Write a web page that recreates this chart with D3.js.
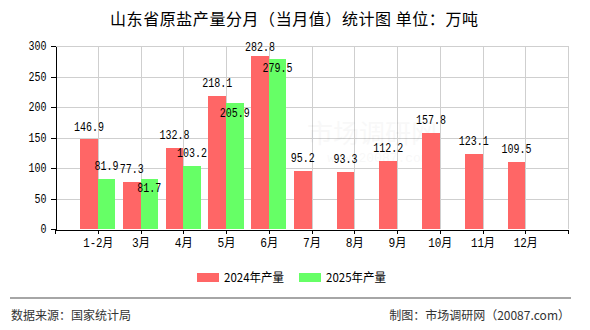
<!DOCTYPE html>
<html>
<head>
<meta charset="utf-8">
<script src="https://cdn.jsdelivr.net/npm/d3@7/dist/d3.min.js"></script>
<style>
  html, body { margin: 0; padding: 0; background: #fff; }
  svg { display: block; }
</style>
</head>
<body>
<svg id="chart" width="590" height="330"></svg>
<script>
// Monthly raw salt output, Shandong province (10k tonnes)
const categories = ["1-2月", "3月", "4月", "5月", "6月", "7月", "8月", "9月", "10月", "11月", "12月"];
const output2024 = [146.9, 77.3, 132.8, 218.1, 282.8, 95.2, 93.3, 112.2, 157.8, 123.1, 109.5];
const output2025 = [81.9, 81.7, 103.2, 205.9, 279.5, null, null, null, null, null, null];
const yTicks = [0, 50, 100, 150, 200, 250, 300];
const seriesNames = ["2024年产量", "2025年产量"];
const seriesColors = ["#ff6666", "#66ff66"];

const svg = d3.select("#chart");
const plot = { left: 55, right: 568, top: 46, bottom: 229 };

const monoFont = "'Liberation Mono', 'DejaVu Sans Mono', 'Noto Sans CJK SC', monospace";
const cjkFont = "'Noto Sans CJK SC', 'Liberation Sans', sans-serif";

// half-width / full-width metrics, like a classic bitmap CJK font
function textWidth(str, size) {
  let w = 0;
  for (const ch of str) w += ch.charCodeAt(0) < 128 ? size / 2 : size;
  return w;
}
function fitText(sel, size) {
  sel.each(function () {
    const t = d3.select(this);
    t.attr("textLength", textWidth(t.text(), size)).attr("lengthAdjust", "spacingAndGlyphs");
  });
}

const x = d3.scalePoint().domain(categories).range([plot.left, plot.right]).padding(1);
const y = d3.scaleLinear().domain([0, 300]).range([plot.bottom, plot.top]);
const barW = x.step() * 0.41;

// grid
const grid = svg.append("g").attr("stroke", "#cfcfcf").attr("stroke-width", 1).attr("shape-rendering", "crispEdges");
grid.selectAll("line.h").data(yTicks.filter(d => d > 0)).join("line")
  .attr("x1", plot.left).attr("x2", plot.right)
  .attr("y1", d => Math.round(y(d)) + 0.5).attr("y2", d => Math.round(y(d)) + 0.5);
grid.selectAll("line.v").data(categories).join("line")
  .attr("x1", d => Math.round(x(d)) + 0.5).attr("x2", d => Math.round(x(d)) + 0.5)
  .attr("y1", plot.top).attr("y2", plot.bottom);
grid.append("line")
  .attr("x1", plot.right + 0.5).attr("x2", plot.right + 0.5)
  .attr("y1", plot.top).attr("y2", plot.bottom);

// faint watermark
const wm = svg.append("g").attr("fill", "#000").attr("opacity", 0.025).attr("text-anchor", "middle");
wm.append("text").attr("x", 372).attr("y", 143).attr("font-family", cjkFont).attr("font-size", 26).text("市场调研网");
wm.append("text").attr("x", 378).attr("y", 162).attr("font-family", monoFont).attr("font-size", 13).text("www.20087.com");

// bars
const rows = categories.map((c, i) => ({ c, v: [output2024[i], output2025[i]] }));
const bars = svg.append("g").attr("shape-rendering", "crispEdges");
[0, 1].forEach(s => {
  bars.selectAll(`rect.s${s}`).data(rows.filter(r => r.v[s] != null)).join("rect")
    .attr("class", `s${s}`)
    .attr("x", r => x(r.c) - barW + s * barW)
    .attr("width", barW)
    .attr("y", r => y(r.v[s]))
    .attr("height", r => y(0) - y(r.v[s]))
    .attr("fill", seriesColors[s]);
});

// axes
const yAxis = svg.append("g").attr("transform", `translate(${plot.left + 0.5},0)`)
  .call(d3.axisLeft(y).tickValues(yTicks).tickSize(5).tickPadding(4).tickSizeOuter(0));
const xAxis = svg.append("g").attr("transform", `translate(0,${plot.bottom + 0.5})`)
  .call(d3.axisBottom(x).tickSize(4).tickSizeOuter(4).tickPadding(5));
[yAxis, xAxis].forEach(a => {
  a.selectAll("path, line").attr("stroke", "#000").attr("shape-rendering", "crispEdges");
  a.selectAll("text").attr("fill", "#000").attr("font-size", 12).attr("font-family", monoFont);
});
yAxis.selectAll("text").call(fitText, 12);
xAxis.selectAll("text").call(fitText, 12);

// value labels: above the bar; second series drops inside when it would collide
const labels = svg.append("g").attr("font-family", monoFont).attr("font-size", 12)
  .attr("fill", "#000").attr("text-anchor", "middle");
rows.forEach(r => {
  const cx = x(r.c);
  const cy0 = Math.max(y(r.v[0]) - 13, plot.top + 1);
  labels.append("text").attr("x", cx - barW / 2).attr("y", cy0).attr("dy", "0.35em").text(r.v[0].toFixed(1));
  if (r.v[1] != null) {
    let cy1 = Math.max(y(r.v[1]) - 13, plot.top + 1);
    if (Math.abs(cy1 - cy0) < 12) cy1 = y(r.v[1]) + 9;
    labels.append("text").attr("x", cx + barW / 2).attr("y", cy1).attr("dy", "0.35em").text(r.v[1].toFixed(1));
  }
});
labels.selectAll("text").call(fitText, 12);

// title
svg.append("text").attr("x", 110).attr("y", 19).attr("dy", "0.35em")
  .attr("font-family", cjkFont).attr("font-size", 16).attr("fill", "#000")
  .attr("textLength", 368).attr("lengthAdjust", "spacing")
  .text("山东省原盐产量分月（当月值）统计图 单位：万吨");

// legend
const legend = svg.append("g");
const legendX = [197, 299];
seriesNames.forEach((n, i) => {
  legend.append("rect").attr("x", legendX[i]).attr("y", 273).attr("width", 22).attr("height", 9)
    .attr("fill", seriesColors[i]).attr("shape-rendering", "crispEdges");
  legend.append("text").attr("x", legendX[i] + 27).attr("y", 277.5).attr("dy", "0.35em")
    .attr("font-family", cjkFont).attr("font-size", 12).attr("fill", "#000").text(n)
    .call(fitText, 12);
});

// footer
svg.append("line").attr("x1", 10).attr("x2", 571).attr("y1", 298).attr("y2", 298)
  .attr("stroke", "#888").attr("stroke-width", 1.5);
svg.append("text").attr("x", 11).attr("y", 315.5).attr("dy", "0.35em")
  .attr("font-family", cjkFont).attr("font-size", 12).attr("fill", "#333").text("数据来源：国家统计局");
svg.append("text").attr("x", 570).attr("y", 315.5).attr("dy", "0.35em").attr("text-anchor", "end")
  .attr("font-family", cjkFont).attr("font-size", 12).attr("fill", "#333").text("制图：市场调研网（20087.com）");
</script>
</body>
</html>
